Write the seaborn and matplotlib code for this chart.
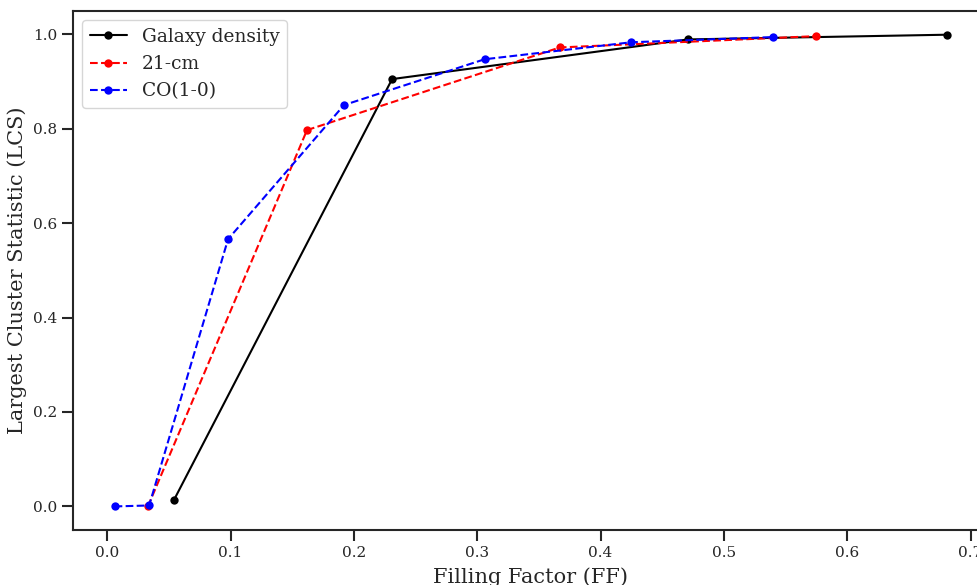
import numpy as np
import pandas as pd
import matplotlib
matplotlib.use("Agg")
import matplotlib.pyplot as plt
import seaborn as sns

# Data
galaxy_ff = [0.054, 0.231, 0.471, 0.681]
galaxy_lcs = [0.013, 0.905, 0.989, 0.999]

hi_ff = [0.033, 0.162, 0.367, 0.575]
hi_lcs = [0.000, 0.797, 0.972, 0.996]

co_ff = [0.006, 0.034, 0.098, 0.192, 0.306, 0.425, 0.540]
co_lcs = [0.000, 0.002, 0.566, 0.850, 0.947, 0.983, 0.994]

sns.set_style("ticks")
plt.rcParams["font.family"] = ["DejaVu Serif"]

fig = plt.figure(figsize=(9.77, 5.85), dpi=100)
ax = fig.add_axes([0.0747, 0.094, 0.9373, 0.887])

sns.lineplot(x=galaxy_ff, y=galaxy_lcs, ax=ax, color="black", linestyle="-",
             marker="o", markersize=6, markeredgewidth=0, linewidth=1.5,
             label="Galaxy density", sort=False)
sns.lineplot(x=hi_ff, y=hi_lcs, ax=ax, color="red", linestyle="--",
             marker="o", markersize=6, markeredgewidth=0, linewidth=1.5,
             label="21-cm", sort=False)
sns.lineplot(x=co_ff, y=co_lcs, ax=ax, color="blue", linestyle="--",
             marker="o", markersize=6, markeredgewidth=0, linewidth=1.5,
             label="CO(1-0)", sort=False)

ax.set_xlabel("Filling Factor (FF)", fontsize=15, labelpad=5)
ax.set_ylabel("Largest Cluster Statistic (LCS)", fontsize=15)
ax.tick_params(axis="both", labelsize=11, length=8, width=1.5)
for s in ax.spines.values():
    s.set_linewidth(1.5)
ax.set_xticks(np.arange(0, 0.8, 0.1))
ax.legend(loc="upper left", fontsize=13.4, frameon=True)

fig.savefig("out.png", dpi=100)
